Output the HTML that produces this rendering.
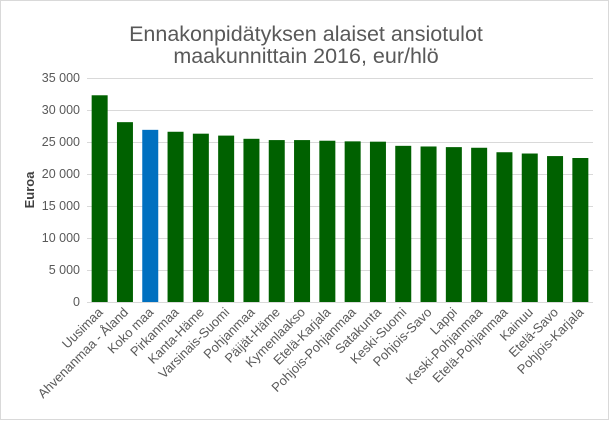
<!DOCTYPE html>
<html><head><meta charset="utf-8"><style>
body{margin:0;background:#fff}
svg{display:block;font-family:"Liberation Sans",Arial,sans-serif}
</style></head><body>
<svg width="611" height="422" viewBox="0 0 611 422">
<rect x="0.5" y="0.5" width="608" height="419" fill="#fff" stroke="#d9d9d9"/>
<text x="306" y="41" font-size="21.5" fill="#595959" text-anchor="middle">Ennakonpidätyksen alaiset ansiotulot</text>
<text x="306" y="63" font-size="21.5" fill="#595959" text-anchor="middle">maakunnittain 2016, eur/hlö</text>
<g stroke="#d9d9d9" stroke-width="1">
<line x1="87" x2="593" y1="78.5" y2="78.5"/><line x1="87" x2="593" y1="110.5" y2="110.5"/>
<line x1="87" x2="593" y1="142.5" y2="142.5"/><line x1="87" x2="593" y1="174.5" y2="174.5"/>
<line x1="87" x2="593" y1="206.5" y2="206.5"/><line x1="87" x2="593" y1="238.5" y2="238.5"/>
<line x1="87" x2="593" y1="270.5" y2="270.5"/><line x1="87" x2="593" y1="302.5" y2="302.5"/>
</g>
<g font-size="12.5" fill="#595959" text-anchor="end">
<text x="80" y="82">35 000</text><text x="80" y="114">30 000</text><text x="80" y="146">25 000</text>
<text x="80" y="178">20 000</text><text x="80" y="210">15 000</text><text x="80" y="242">10 000</text>
<text x="80" y="274">5 000</text><text x="80" y="306">0</text>
</g>
<text transform="translate(34,190) rotate(-90)" font-size="13" font-weight="bold" fill="#404040" text-anchor="middle">Euroa</text>
<g id="bars"></g>
<g id="labels" font-size="13" fill="#595959" text-anchor="end"></g>
<script>
var d=[["Uusimaa",32300],["Ahvenanmaa - Åland",28100],["Koko maa",26900],["Pirkanmaa",26600],["Kanta-Häme",26300],["Varsinais-Suomi",26000],["Pohjanmaa",25500],["Päijät-Häme",25300],["Kymenlaakso",25300],["Etelä-Karjala",25200],["Pohjois-Pohjanmaa",25100],["Satakunta",25050],["Keski-Suomi",24400],["Pohjois-Savo",24300],["Lappi",24200],["Keski-Pohjanmaa",24100],["Etelä-Pohjanmaa",23400],["Kainuu",23200],["Etelä-Savo",22800],["Pohjois-Karjala",22500]];
var b=document.getElementById("bars"),l=document.getElementById("labels"),ns="http://www.w3.org/2000/svg";
d.forEach(function(e,i){var cx=87+25.3*(i+0.5),h=e[1]/5000*32;
var r=document.createElementNS(ns,"rect");r.setAttribute("x",cx-8);r.setAttribute("y",302-h);r.setAttribute("width",16);r.setAttribute("height",h);r.setAttribute("fill",i==2?"#0070c0":"#006100");b.appendChild(r);
var t=document.createElementNS(ns,"text");t.setAttribute("transform","translate("+(cx+4)+",313) rotate(-45)");t.textContent=e[0];l.appendChild(t);});
</script>
</svg>
</body></html>
